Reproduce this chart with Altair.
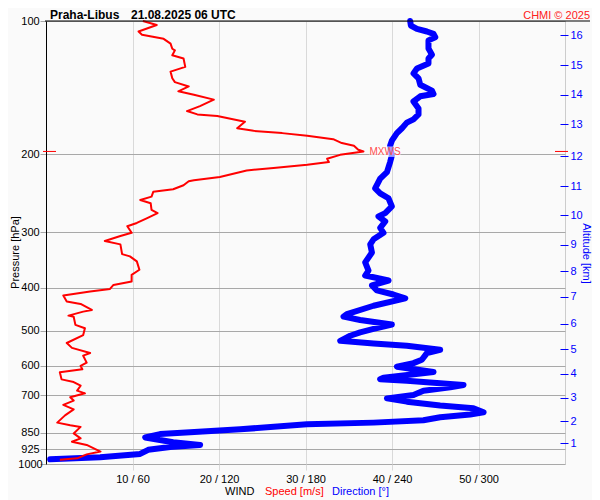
import altair as alt
import pandas as pd

# ---------------- data ----------------
speed_p = [100, 102.1, 105.6, 107.4, 109.7, 112.5, 115.5, 116.5, 119.5, 121.5, 126.9, 130.1, 134.7, 137.4,
           140.5, 144.1, 146.7, 150.5, 155.6, 159.7, 162.5, 163.9, 168.8, 174.6, 177.0, 179.1, 181.6, 184.8,
           188.6, 191.2, 195.2, 197.0, 200.5, 204.7, 208.2, 211.1, 214.7, 217.4, 224.9, 228.8, 230.0, 234.8,
           239.7, 243.0, 249.1, 253.5, 257.8, 266.9, 271.4, 278.5, 285.7, 290.6, 300.7, 305.8, 313.8, 319.3,
           335.9, 339.9, 348.9, 364.4, 374.1, 387.3, 394.3, 402.5, 407.9, 416.6, 429.9, 435.3, 449.1, 452.9,
           462.5, 465.0, 485.2, 493.9, 511.7, 533.2, 546.8, 561.6, 569.5, 590.3, 600.5, 611.2, 620.9, 644.1,
           653.0, 665.8, 683.1, 692.6, 707.1, 719.1, 735.2, 753.0, 776.6, 806.5, 817.5, 824.6, 853.0, 875.2,
           890.8, 905.8, 937.5, 951.2, 970.9, 977.8]
speed_ms = [11.2, 12.8, 10.7, 11.1, 13.6, 14.4, 14.6, 14.9, 14.6, 15.9, 16.1, 14.4, 14.6, 14.9,
            16.5, 15.3, 17.1, 19.4, 17.8, 16.3, 17.5, 19.8, 23.0, 22.1, 24.0, 27.3, 30.2, 33.2,
            34.2, 35.6, 36.1, 36.7, 34.0, 32.5, 32.7, 30.2, 26.3, 23.2, 20.1, 17.1, 16.5, 15.9,
            14.7, 12.4, 12.2, 10.9, 12.1, 12.2, 12.9, 11.7, 10.5, 9.4, 9.9, 8.6, 6.8, 8.6,
            8.8, 9.7, 10.5, 10.8, 9.9, 9.9, 7.8, 7.4, 5.1, 2.0, 2.4, 4.0, 5.3, 4.3,
            2.6, 3.2, 3.4, 4.5, 4.3, 2.4, 3.0, 5.1, 4.3, 4.7, 4.0, 4.2, 1.6, 1.8,
            3.2, 4.0, 3.6, 4.5, 2.8, 3.2, 2.0, 3.2, 2.2, 1.3, 2.8, 4.0, 3.2, 4.0,
            3.0, 4.7, 6.3, 4.7, 3.6, 1.6]

dir_p = [100, 102.4, 104.2, 105.6, 106.9, 108.8, 110.6, 115.4, 119.1, 121.5, 124.7, 128.0, 131.3, 134.7,
         139.3, 143.6, 146.1, 147.9, 151.9, 157.5, 162.5, 166.7, 169.6, 174.6, 179.1, 186.3, 191.2, 201.2,
         208.2, 213.7, 219.3, 226.8, 238.7, 244.9, 251.3, 262.1, 271.4, 276.1, 283.5, 293.1, 300.7, 311.1,
         319.3, 333.2, 350.7, 365.9, 375.5, 378.8, 385.3, 395.3, 405.6, 414.4, 422.8, 439.3, 458.6, 464.8,
         473.0, 484.5, 495.6, 504.6, 513.5, 527.2, 534.6, 541.0, 552.4, 562.0, 581.8, 592.0, 603.0, 619.8,
         638.4, 643.7, 649.0, 663.3, 671.4, 683.1, 698.4, 710.9, 723.2, 737.8, 748.3, 764.3, 773.4, 784.3,
         796.8, 806.5, 813.7, 835, 848, 856, 871, 893, 906, 915, 929, 949, 965, 976]
dir_deg = [252.6, 253.1, 257.3, 264.2, 268.8, 270.0, 265.3, 265.3, 267.7, 265.3, 265.3, 257.3, 254.9, 258.4,
           259.6, 267.7, 268.8, 259.6, 254.9, 258.4, 258.4, 254.9, 250.3, 246.9, 243.4, 239.9, 238.7, 239.9,
           238.7, 237.6, 236.5, 231.8, 228.3, 231.8, 237.6, 239.9, 235.3, 230.6, 235.3, 231.8, 234.1, 227.2,
           224.9, 226.1, 221.4, 223.7, 221.4, 227.2, 237.6, 226.1, 229.5, 241.0, 249.2, 227.2, 208.7, 206.4,
           217.9, 239.9, 227.2, 217.9, 211.0, 204.1, 227.2, 250.3, 273.4, 264.2, 260.7, 254.9, 243.4, 268.8,
           234.1, 231.8, 250.3, 289.6, 280.4, 261.8, 254.9, 236.5, 250.3, 273.4, 296.5, 303.5, 294.2, 273.4,
           261.8, 227.2, 181.0, 134.7, 100.0, 79.1, 68.8, 88.2, 106.9, 86.1, 70.9, 65.3, 37.6, 2.9]

alt_km = [16, 15, 14, 13, 12, 11, 10, 9, 8, 7, 6, 5, 4, 3, 2, 1]
alt_p = [107.8, 125.8, 146.7, 171.1, 202.0, 236.3, 274.2, 319.9, 367.3, 419.7, 481.9, 550.7,
         626.1, 708.1, 800.9, 896.6]

p_ticks = [100, 200, 300, 400, 500, 600, 700, 850, 925, 1000]
x_ticks = [10, 20, 30, 40, 50]

title_station = "Praha-Libus"
title_time = "21.08.2025 06 UTC"
credit = "CHMI © 2025"
foot_parts = ["WIND", "Speed [m/s]", "Direction [°]"]

# ---------------- styling ----------------
FONT = "Liberation Sans"
RED = "#ff0000"
BLUE = "#0000ff"
W, H = 519, 443

speed_df = pd.DataFrame({"p": speed_p, "s": speed_ms, "i": list(range(len(speed_p)))})
dir_df = pd.DataFrame({"p": dir_p, "d": dir_deg, "i": list(range(len(dir_p)))})
imax = max(range(len(speed_ms)), key=lambda k: speed_ms[k])
mx_df = pd.DataFrame({"p": [speed_p[imax]], "s": [speed_ms[imax]], "t": ["MXWS"]})
one = pd.DataFrame({"k": [0]})

xs = alt.Scale(domain=[0, 60], nice=False, zero=False)
ys = alt.Scale(type="log", domain=[100, 1000], reverse=True, nice=False)

x_axis = alt.Axis(values=x_ticks, labelExpr="datum.value + ' / ' + datum.value * 6",
                  grid=True, gridColor="#d9d9d9", tickColor="#d9d9d9", tickSize=6, domain=False,
                  labelFont=FONT, labelFontSize=11, labelColor="#000000", labelPadding=3,
                  labelFlush=False, title=None, orient="bottom")

left_axis = alt.Axis(values=p_ticks, format="d", grid=True, gridColor="#a8a8a8",
                     tickColor="#a8a8a8", tickSize=6, domainColor="#000000",
                     labelAlign="center", labelPadding=10, labelFont=FONT, labelFontSize=11,
                     labelColor="#000000", labelOverlap=False,
                     title="Pressure [hPa]", titleFont=FONT, titleFontSize=11,
                     titleFontWeight="normal", titleColor="#000000", titleAngle=270,
                     titleX=-31, titleY=231, titleBaseline="middle", titleAlign="center")

expr = ("[" + ",".join("'%d'" % k for k in alt_km) + "][indexof([" +
        ",".join(repr(p) for p in alt_p) + "], datum.value)]")
right_axis = alt.Axis(orient="right", values=alt_p, labelExpr=expr, domain=False, grid=False,
                      tickColor=BLUE, tickSize=8, offset=-5, labelPadding=2, labelFont=FONT,
                      labelFontSize=11, labelColor=BLUE, labelOverlap=False, labelAlign="left",
                      title="Altitude [km]", titleFont=FONT, titleFontSize=11,
                      titleFontWeight="normal", titleColor=BLUE, titleAngle=90,
                      titleX=25, titleY=232, titleBaseline="middle", titleAlign="center")

blue = alt.Chart(dir_df).transform_calculate(x="datum.d / 6").mark_line(
    color=BLUE, strokeWidth=6, strokeCap="round", strokeJoin="round").encode(
    x=alt.X("x:Q", scale=xs, axis=x_axis),
    y=alt.Y("p:Q", scale=ys, axis=right_axis),
    order="i:Q")

red = alt.Chart(speed_df).mark_line(color=RED, strokeWidth=2, strokeJoin="round").encode(
    x=alt.X("s:Q", scale=xs, axis=x_axis),
    y=alt.Y("p:Q", scale=ys, axis=left_axis),
    order="i:Q")

top = alt.Chart(one).mark_rule(color="#000000", strokeWidth=1).encode(
    x=alt.value(-1), x2=alt.value(544),
    y=alt.Y(datum=100, scale=ys, axis=None))

mx_left = alt.Chart(mx_df).mark_rule(color=RED, strokeWidth=1).encode(
    x=alt.value(-3), x2=alt.value(10),
    y=alt.Y("p:Q", scale=ys, axis=None))
mx_right = alt.Chart(mx_df).mark_rule(color=RED, strokeWidth=1).encode(
    x=alt.value(509), x2=alt.value(522),
    y=alt.Y("p:Q", scale=ys, axis=None))

mx_box = alt.Chart(mx_df).mark_rect(color="#ffffff", opacity=0.6, xOffset=6, x2Offset=37,
                                    yOffset=-5, y2Offset=5.5).encode(
    x=alt.X("s:Q", scale=xs, axis=x_axis), x2="s:Q",
    y=alt.Y("p:Q", scale=ys, axis=None), y2="p:Q")
mx_text = alt.Chart(mx_df).mark_text(align="left", baseline="middle", dx=6, dy=1, font=FONT,
                                     fontSize=10, color="#ff4d4d").encode(
    x=alt.X("s:Q", scale=xs, axis=x_axis), y=alt.Y("p:Q", scale=ys, axis=None), text="t:N")


def label(text, x, y, color="#000000", size=11, weight="normal", align="left"):
    return alt.Chart(pd.DataFrame({"t": [text]})).mark_text(
        align=align, baseline="alphabetic", font=FONT, fontSize=size, fontWeight=weight,
        color=color).encode(x=alt.value(x), y=alt.value(y), text="t:N")


texts = [
    label(title_station, 4, -2, size=12, weight="bold"),
    label(title_time, 85, -2, size=12, weight="bold"),
    label(credit, 544, -2.5, color="#ff2020", size=11, align="right"),
    label(foot_parts[0], 179, 474),
    label(foot_parts[1], 219, 474, color=RED),
    label(foot_parts[2], 286, 474, color=BLUE),
]

chart = alt.layer(blue, red, top, mx_left, mx_right, mx_box, mx_text, *texts).resolve_scale(
    y="independent"
).properties(
    width=W, height=H,
    padding={"left": 38, "top": 13, "right": 27, "bottom": 36},
    autosize=alt.AutoSizeParams(type="none"),
    background="#fafafa",
).configure_view(stroke="#cccccc", strokeWidth=1)

chart.save("out.html", embed_options={"renderer": "svg", "actions": False})
